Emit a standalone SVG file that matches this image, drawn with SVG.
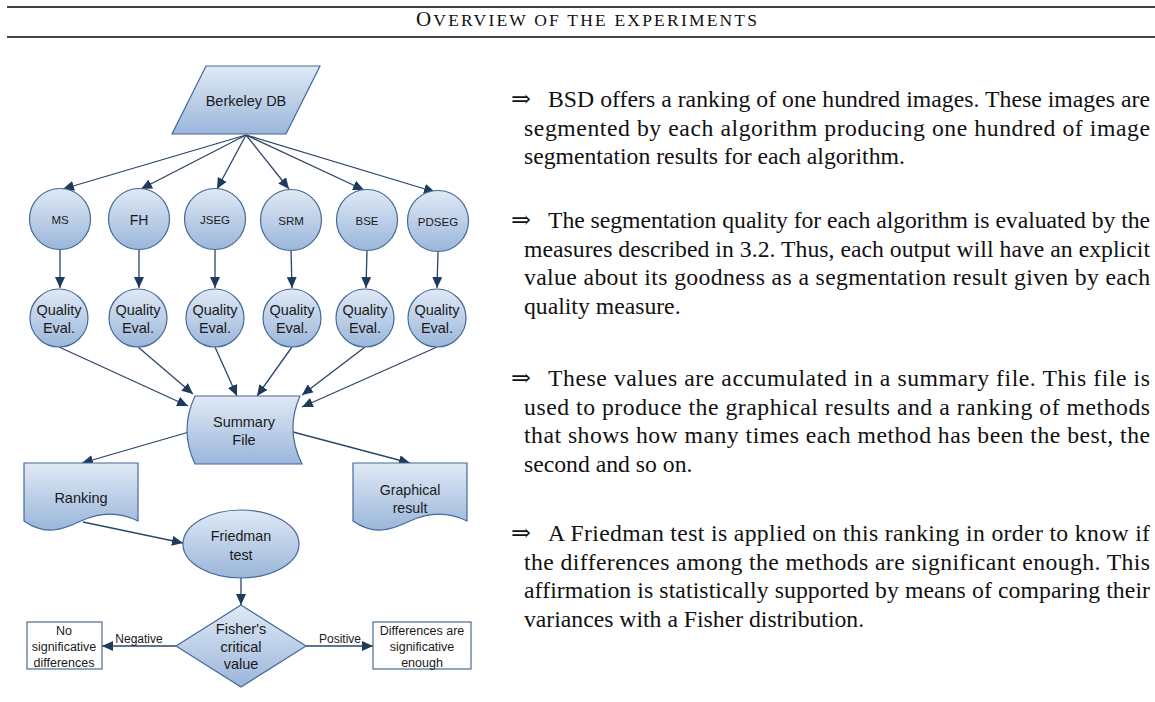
<svg xmlns="http://www.w3.org/2000/svg" width="1155" height="702" viewBox="0 0 1155 702">
<style>
.sh{fill:url(#g);stroke:#45699a;stroke-width:1.2}
.bx{fill:#fff;stroke:#4d6b8c;stroke-width:1.2}
.t{font-family:"Liberation Sans",Arial,sans-serif;fill:#1a1a1a;text-anchor:middle}
.c{stroke:#2a4668;stroke-width:1.3;fill:none;marker-end:url(#ah)}
.p{font-family:"Liberation Serif","DejaVu Serif",serif;font-size:23.7px;fill:#111}
</style>
<defs>
<linearGradient id="g" x1="0" y1="0" x2="0" y2="1">
<stop offset="0" stop-color="#e0e9f5"/>
<stop offset="1" stop-color="#9ab6da"/>
</linearGradient>
<marker id="ah" markerWidth="11" markerHeight="10" refX="11" refY="5" orient="auto" markerUnits="userSpaceOnUse">
<path d="M0,0 L11,5 L0,10 Z" fill="#1f3a5c"/>
</marker>
</defs>
<rect width="1155" height="702" fill="#fff"/>
<g id="header">
<line x1="7" y1="7" x2="1155" y2="7" stroke="#000" stroke-width="1.3"/>
<text x="416" y="26" font-family="Liberation Serif,serif" fill="#111" textLength="341" lengthAdjust="spacing"><tspan font-size="21">O</tspan><tspan font-size="17.5">VERVIEW OF THE EXPERIMENTS</tspan></text>
<line x1="7" y1="37" x2="1155" y2="37" stroke="#444" stroke-width="1.8"/>
</g>
<g id="connectors">
<path class="c" d="M246,135 L63,189"/>
<path class="c" d="M246,135 L141,189"/>
<path class="c" d="M246,135 L217,189"/>
<path class="c" d="M246,135 L289,189"/>
<path class="c" d="M246,135 L364,190"/>
<path class="c" d="M246,135 L435,192"/>
<path class="c" d="M60,250 L60,288"/>
<path class="c" d="M139,250 L139,288"/>
<path class="c" d="M215,250 L215,288"/>
<path class="c" d="M291,250 L292,288"/>
<path class="c" d="M367,250 L366,288"/>
<path class="c" d="M438,252 L437,288"/>
<path class="c" d="M59,347 L188,406"/>
<path class="c" d="M138,347 L193,394"/>
<path class="c" d="M215,347 L237,396"/>
<path class="c" d="M292,347 L257,396"/>
<path class="c" d="M365,347 L302,395"/>
<path class="c" d="M437,347 L302,407"/>
<path class="c" d="M189,432 L82,463"/>
<path class="c" d="M293,432 L410,463"/>
<path class="c" d="M83,522 L183,543"/>
<path class="c" d="M241,578 L241,605"/>
<path class="c" d="M176,646 L102,646"/>
<path class="c" d="M306,646 L373,646"/>
<text class="t" x="139" y="643" font-size="12">Negative</text>
<text class="t" x="340" y="643" font-size="12">Positive</text>
</g>
<g id="berkeley">
<path class="sh" d="M206,66 H320 L286,134 H172 Z"/>
<text class="t" x="246" y="106" font-size="14.5">Berkeley DB</text>
</g>
<g id="ms"><circle class="sh" cx="60" cy="219" r="30.5"/><text class="t" x="60" y="224" font-size="11.5">MS</text></g>
<g id="fh"><circle class="sh" cx="139" cy="219" r="30.5"/><text class="t" x="139" y="225" font-size="14">FH</text></g>
<g id="jseg"><circle class="sh" cx="215" cy="219" r="30.5"/><text class="t" x="215" y="224" font-size="11.5">JSEG</text></g>
<g id="srm"><circle class="sh" cx="291" cy="220" r="30.5"/><text class="t" x="291" y="225" font-size="11.5">SRM</text></g>
<g id="bse"><circle class="sh" cx="367" cy="220" r="30.5"/><text class="t" x="367" y="225" font-size="11.5">BSE</text></g>
<g id="pdseg"><circle class="sh" cx="438" cy="221" r="30.5"/><text class="t" x="438" y="226" font-size="11.5">PDSEG</text></g>
<g id="q1"><circle class="sh" cx="59" cy="318" r="29"/><text class="t" x="59" y="315" font-size="14.5">Quality</text><text class="t" x="59" y="333" font-size="14.5">Eval.</text></g>
<g id="q2"><circle class="sh" cx="138" cy="318" r="29"/><text class="t" x="138" y="315" font-size="14.5">Quality</text><text class="t" x="138" y="333" font-size="14.5">Eval.</text></g>
<g id="q3"><circle class="sh" cx="215" cy="318" r="29"/><text class="t" x="215" y="315" font-size="14.5">Quality</text><text class="t" x="215" y="333" font-size="14.5">Eval.</text></g>
<g id="q4"><circle class="sh" cx="292" cy="318" r="29"/><text class="t" x="292" y="315" font-size="14.5">Quality</text><text class="t" x="292" y="333" font-size="14.5">Eval.</text></g>
<g id="q5"><circle class="sh" cx="365" cy="318" r="29"/><text class="t" x="365" y="315" font-size="14.5">Quality</text><text class="t" x="365" y="333" font-size="14.5">Eval.</text></g>
<g id="q6"><circle class="sh" cx="437" cy="318" r="29"/><text class="t" x="437" y="315" font-size="14.5">Quality</text><text class="t" x="437" y="333" font-size="14.5">Eval.</text></g>
<g id="summary">
<path class="sh" d="M195,396 H300 Q285,430 302,464 H195 Q179,430 195,396 Z"/>
<text class="t" x="244" y="427" font-size="14.5">Summary</text>
<text class="t" x="244" y="445" font-size="14.5">File</text>
</g>
<g id="ranking">
<path class="sh" d="M24,463 H138 V521 C120,512 100,512 81,521 C62,530 45,536 24,521 Z"/>
<text class="t" x="81" y="503" font-size="14.5">Ranking</text>
</g>
<g id="graphical">
<path class="sh" d="M353,463 H467 V521 C449,512 429,512 410,521 C391,530 374,536 353,521 Z"/>
<text class="t" x="410" y="495" font-size="14.2">Graphical</text>
<text class="t" x="410" y="513" font-size="14.2">result</text>
</g>
<g id="friedman">
<ellipse class="sh" cx="241" cy="544" rx="58" ry="34"/>
<text class="t" x="241" y="541" font-size="14.3">Friedman</text>
<text class="t" x="241" y="560" font-size="14.3">test</text>
</g>
<g id="fisher">
<path class="sh" d="M241,605 L306,646 L241,687 L176,646 Z"/>
<text class="t" x="241" y="634" font-size="14.5">Fisher's</text>
<text class="t" x="241" y="652" font-size="14.5">critical</text>
<text class="t" x="241" y="669" font-size="14.5">value</text>
</g>
<g id="nosig">
<rect class="bx" x="27" y="622" width="75" height="47"/>
<text class="t" x="64" y="635" font-size="12.5">No</text>
<text class="t" x="64" y="651" font-size="12.5">significative</text>
<text class="t" x="64" y="667" font-size="12.5">differences</text>
</g>
<g id="diff">
<rect class="bx" x="373" y="622" width="98" height="47"/>
<text class="t" x="422" y="635" font-size="12.5">Differences are</text>
<text class="t" x="422" y="651" font-size="12.5">significative</text>
<text class="t" x="422" y="667" font-size="12.5">enough</text>
</g>
<g id="text">
<text class="p" x="511" y="107">⇒</text>
<text class="p" x="548" y="107" textLength="602" lengthAdjust="spacing">BSD offers a ranking of one hundred images. These images are</text>
<text class="p" x="524" y="135.5" textLength="626" lengthAdjust="spacing">segmented by each algorithm producing one hundred of image</text>
<text class="p" x="524" y="164">segmentation results for each algorithm.</text>
<text class="p" x="511" y="228">⇒</text>
<text class="p" x="548" y="228" textLength="602" lengthAdjust="spacing">The segmentation quality for each algorithm is evaluated by the</text>
<text class="p" x="524" y="256.5" textLength="626" lengthAdjust="spacing">measures described in 3.2. Thus, each output will have an explicit</text>
<text class="p" x="524" y="285" textLength="626" lengthAdjust="spacing">value about its goodness as a segmentation result given by each</text>
<text class="p" x="524" y="313.5">quality measure.</text>
<text class="p" x="511" y="386">⇒</text>
<text class="p" x="548" y="386" textLength="602" lengthAdjust="spacing">These values are accumulated in a summary file. This file is</text>
<text class="p" x="524" y="414.5" textLength="626" lengthAdjust="spacing">used to produce the graphical results and a ranking of methods</text>
<text class="p" x="524" y="443" textLength="626" lengthAdjust="spacing">that shows how many times each method has been the best, the</text>
<text class="p" x="524" y="471.5">second and so on.</text>
<text class="p" x="511" y="541">⇒</text>
<text class="p" x="548" y="541" textLength="602" lengthAdjust="spacing">A Friedman test is applied on this ranking in order to know if</text>
<text class="p" x="524" y="569.5" textLength="626" lengthAdjust="spacing">the differences among the methods are significant enough. This</text>
<text class="p" x="524" y="598" textLength="626" lengthAdjust="spacing">affirmation is statistically supported by means of comparing their</text>
<text class="p" x="524" y="626.5">variances with a Fisher distribution.</text>
</g>
</svg>
